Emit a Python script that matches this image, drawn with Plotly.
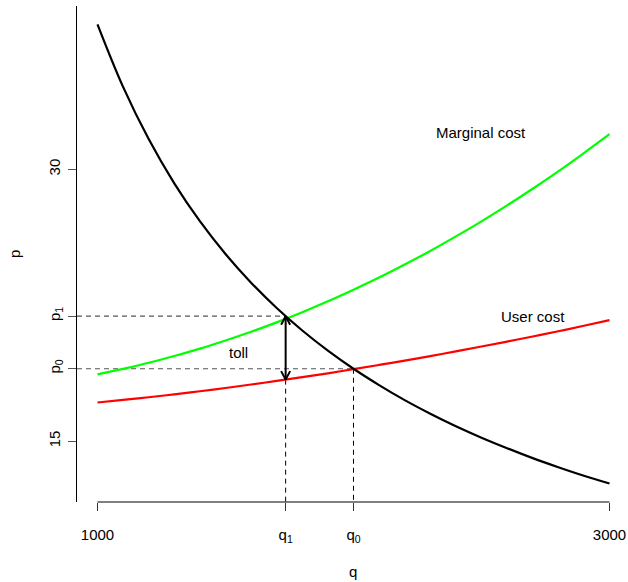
import plotly.graph_objects as go

# ---- data ----
q_vals = [1000, 1100, 1200, 1300, 1400, 1500, 1600, 1700, 1800, 1900, 2000,
          2100, 2200, 2300, 2400, 2500, 2600, 2700, 2800, 2900, 3000]
demand = [38.00, 34.55, 31.67, 29.23, 27.14, 25.33, 23.75, 22.35, 21.11, 20.00, 19.00,
          18.10, 17.27, 16.52, 15.83, 15.20, 14.62, 14.07, 13.57, 13.10, 12.67]
user_cost = [17.14, 17.28, 17.43, 17.59, 17.76, 17.94, 18.13, 18.33, 18.54, 18.75, 18.98,
             19.21, 19.45, 19.70, 19.96, 20.23, 20.50, 20.78, 21.07, 21.37, 21.68]
marginal_cost = [18.69, 18.99, 19.33, 19.70, 20.11, 20.56, 21.04, 21.56, 22.12, 22.72, 23.36,
                 24.03, 24.75, 25.50, 26.30, 27.13, 28.01, 28.93, 29.89, 30.90, 31.94]

q1, q0 = 1735, 2000
p1, p0 = 21.9, 19.0
uc_at_q1 = 18.40

x_tickvals = [1000, q1, q0, 3000]
x_ticktext = ["1000", "q<sub>1</sub>", "q<sub>0</sub>", "3000"]
y_tickvals = [15, p0, p1, 30]
y_ticktext = ["15", "p<sub>0</sub>", "p<sub>1</sub>", "30"]

# ---- layout constants ----
W, H = 628, 582
ML, MR, MT, MB = 77, 0, 6, 80
x_range = [920, 3072.3]
y_range = [11.65, 39.01]
FONT = "Liberation Sans, Arial, Helvetica, sans-serif"
FS = 15

px_x = (W - ML - MR) / (x_range[1] - x_range[0])   # pixels per q unit
px_y = (H - MT - MB) / (y_range[1] - y_range[0])   # pixels per p unit
hw = 4.5 / px_x   # arrow head half-width (data units)
hh = 8.5 / px_y   # arrow head height (data units)

fig = go.Figure()

# dashed guide lines
fig.add_trace(go.Scatter(x=[x_range[0], q1, None, x_range[0], q0], y=[p1, p1, None, p0, p0],
                         mode="lines", line=dict(color="#555555", width=1.2, dash="5px,4px"),
                         hoverinfo="skip", showlegend=False))
fig.add_trace(go.Scatter(x=[q1, q1, None, q0, q0], y=[uc_at_q1, y_range[0], None, p0, y_range[0]],
                         mode="lines", line=dict(color="black", width=1, dash="5px,4px"),
                         hoverinfo="skip", showlegend=False))

# curves
fig.add_trace(go.Scatter(x=q_vals, y=marginal_cost, mode="lines",
                         line=dict(color="#00FF00", width=2.2, shape="spline"), showlegend=False))
fig.add_trace(go.Scatter(x=q_vals, y=user_cost, mode="lines",
                         line=dict(color="#FF0000", width=2.2, shape="spline"), showlegend=False))
fig.add_trace(go.Scatter(x=q_vals, y=demand, mode="lines",
                         line=dict(color="black", width=2.2, shape="spline"), showlegend=False))

# toll arrow (double headed, open heads)
fig.add_trace(go.Scatter(
    x=[q1, q1, None, q1 - hw, q1, q1 + hw, None, q1 - hw, q1, q1 + hw],
    y=[uc_at_q1, p1, None, p1 - hh, p1, p1 - hh, None, uc_at_q1 + hh, uc_at_q1, uc_at_q1 + hh],
    mode="lines", line=dict(color="black", width=2), hoverinfo="skip", showlegend=False))

# x axis line spanning only the tick range (R style)
fig.add_shape(type="line", xref="x", yref="paper", x0=1000, x1=3000, y0=0, y1=0,
              line=dict(color="black", width=1))

annos = [
    dict(x=2500, y=32.05, text="Marginal cost"),
    dict(x=2700, y=21.9, text="User cost"),
    dict(x=1550, y=19.9, text="toll"),
]
for a in annos:
    fig.add_annotation(x=a["x"], y=a["y"], text=a["text"], showarrow=False,
                       font=dict(family=FONT, size=FS, color="black"),
                       xanchor="center", yanchor="middle")

# axis titles
fig.add_annotation(x=0, xref="paper", y=(y_range[0] + y_range[1]) / 2, yref="y",
                   text="p", showarrow=False, textangle=-90, xshift=-63,
                   font=dict(family=FONT, size=FS, color="black"),
                   xanchor="center", yanchor="middle")
fig.add_annotation(x=2000, y=0, yref="paper", text="q", showarrow=False, yshift=-69,
                   font=dict(family=FONT, size=FS, color="black"),
                   xanchor="center", yanchor="middle")

fig.update_layout(
    width=W, height=H,
    margin=dict(l=ML, r=MR, t=MT, b=MB, autoexpand=False),
    plot_bgcolor="white", paper_bgcolor="white",
    font=dict(family=FONT, size=FS, color="black"),
    xaxis=dict(range=x_range, showgrid=False, zeroline=False, showline=False,
               tickmode="array", tickvals=x_tickvals, ticktext=x_ticktext,
               ticks="outside", ticklen=8, tickwidth=1, tickcolor="#333333",
               ticklabelstandoff=11, fixedrange=True),
    yaxis=dict(range=y_range, showgrid=False, zeroline=False, showline=True,
               linecolor="black", linewidth=1,
               tickmode="array", tickvals=y_tickvals, ticktext=y_ticktext,
               ticks="outside", ticklen=8, tickwidth=1, tickcolor="#555555",
               tickangle=-90, ticklabelstandoff=2, fixedrange=True),
)

fig.write_html("out.html", config={"displayModeBar": False},
               post_script="document.body.style.margin='0';document.body.style.overflow='hidden';")
